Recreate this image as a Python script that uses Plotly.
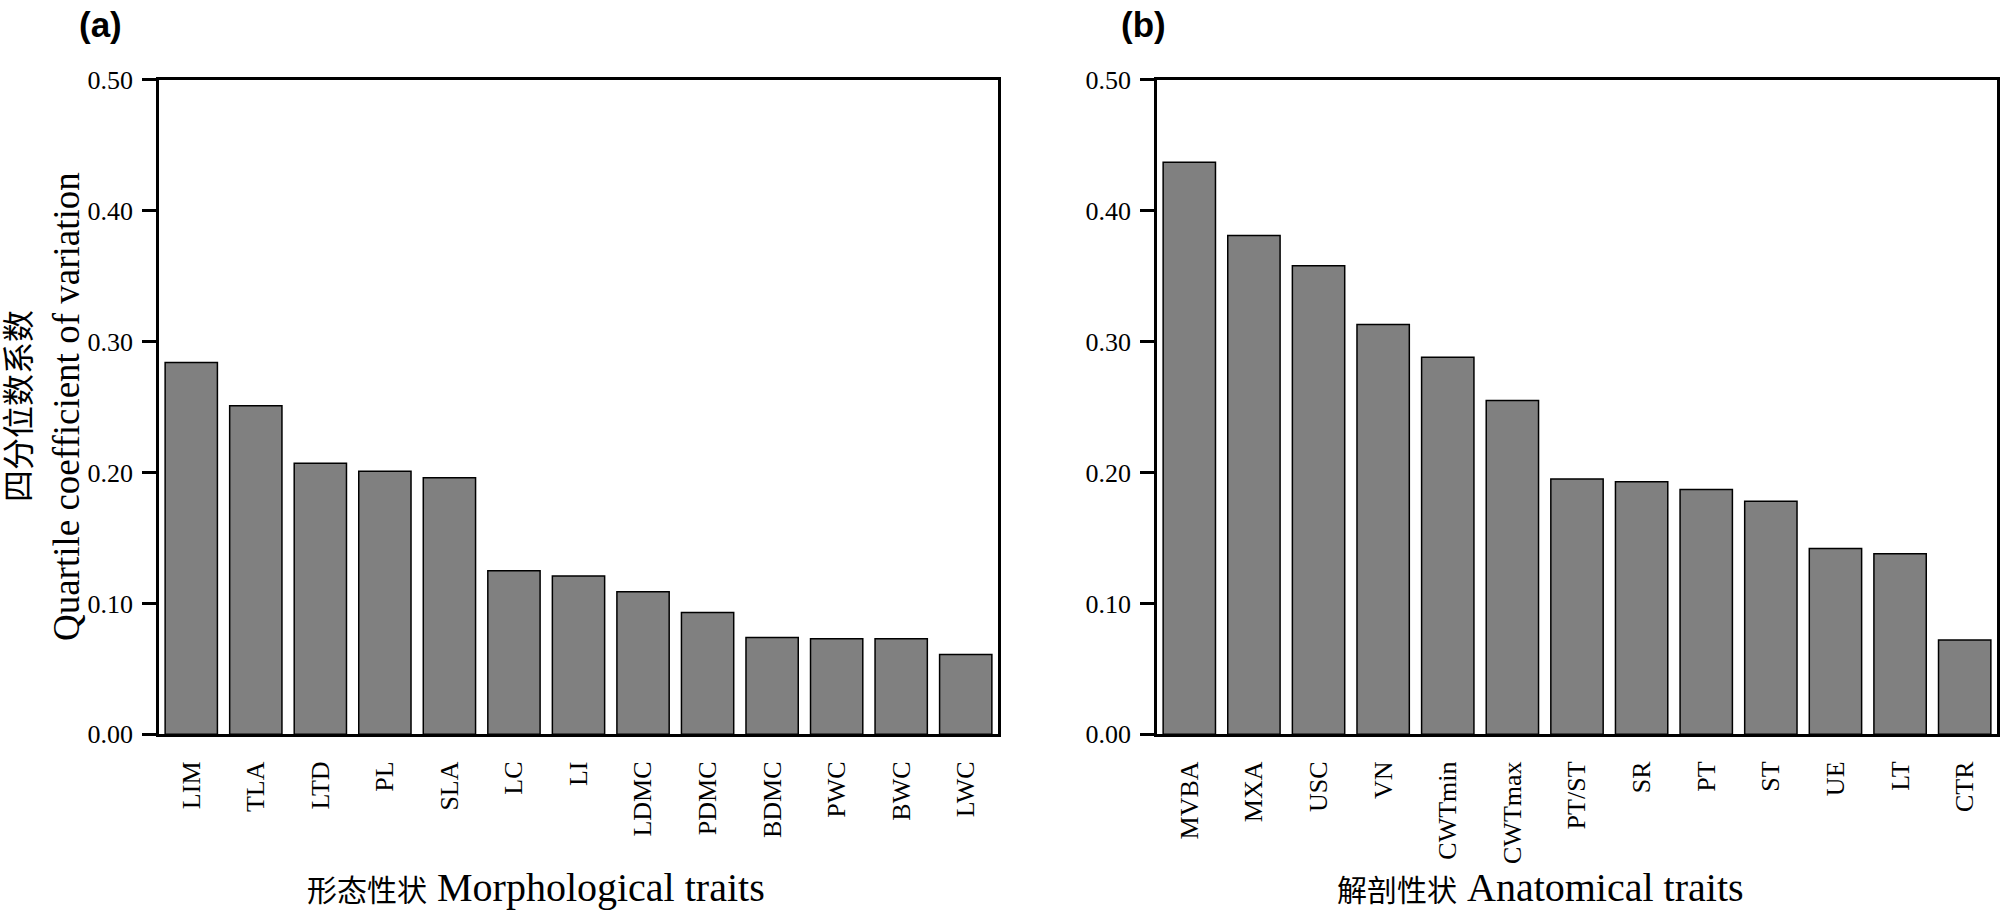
import plotly.graph_objects as go

# ---- data ----
morph_traits = ["LIM", "TLA", "LTD", "PL", "SLA", "LC", "LI", "LDMC", "PDMC", "BDMC", "PWC", "BWC", "LWC"]
morph_qcv = [0.284, 0.251, 0.207, 0.201, 0.196, 0.125, 0.121, 0.109, 0.093, 0.074, 0.073, 0.073, 0.061]

anat_traits = ["MVBA", "MXA", "USC", "VN", "CWTmin", "CWTmax", "PT/ST", "SR", "PT", "ST", "UE", "LT", "CTR"]
anat_qcv = [0.437, 0.381, 0.358, 0.313, 0.288, 0.255, 0.195, 0.193, 0.187, 0.178, 0.142, 0.138, 0.072]

y_ticks = [0.0, 0.1, 0.2, 0.3, 0.4, 0.5]
y_ticktext = ["0.00", "0.10", "0.20", "0.30", "0.40", "0.50"]

W, H = 2000, 911
SERIF = "Liberation Serif, Times New Roman, Noto Sans CJK SC, serif"

fig = go.Figure()
bar_style = dict(marker=dict(color="#808080", line=dict(color="#000000", width=1.5)), showlegend=False)
fig.add_trace(go.Bar(x=morph_traits, y=morph_qcv, xaxis="x", yaxis="y", **bar_style))
fig.add_trace(go.Bar(x=anat_traits, y=anat_qcv, xaxis="x2", yaxis="y2", **bar_style))

def px_x(p):
    return p / W

def px_y(p):
    return 1 - p / H

ydom = [px_y(744), px_y(68)]
xdom1 = [px_x(159), px_x(998)]
xdom2 = [px_x(1157), px_x(1997)]

xcommon = dict(showline=True, linecolor="black", linewidth=2.5, mirror=True, ticks="",
               tickangle=-90, tickfont=dict(family=SERIF, size=26, color="black"),
               showgrid=False, zeroline=False, ticklabelstandoff=14)
ycommon = dict(range=[0, 0.5], tickvals=y_ticks, ticktext=y_ticktext, showline=True, linecolor="black",
               linewidth=2.5, mirror=True, ticks="outside", ticklen=14, tickwidth=2.5, tickcolor="black",
               tickfont=dict(family=SERIF, size=26, color="black"), showgrid=False, zeroline=False,
               domain=ydom, ticklabelstandoff=4)

fig.update_layout(
    width=W, height=H, margin=dict(l=0, r=0, t=0, b=0),
    paper_bgcolor="white", plot_bgcolor="white", bargap=0.19,
    xaxis=dict(domain=xdom1, anchor="y", **xcommon),
    xaxis2=dict(domain=xdom2, anchor="y2", **xcommon),
    yaxis=dict(anchor="x", **ycommon),
    yaxis2=dict(anchor="x2", **ycommon),
)

def title_text(cjk, eng, cjk_size, eng_size):
    return (f'<span style="font-size:{cjk_size}px">{cjk}</span>'
            f'<span style="font-size:{eng_size}px"> {eng}</span>')

ann = []
ann.append(dict(text="<b>(a)</b>", x=px_x(100), y=px_y(11), xref="paper", yref="paper", showarrow=False,
                xanchor="center", yanchor="middle", font=dict(family="Liberation Sans, Arial", size=35, color="black")))
ann.append(dict(text="<b>(b)</b>", x=px_x(1143), y=px_y(11), xref="paper", yref="paper", showarrow=False,
                xanchor="center", yanchor="middle", font=dict(family="Liberation Sans, Arial", size=35, color="black")))
ann.append(dict(text=title_text("形态性状", "Morphological traits", 30, 40), x=px_x(536), y=px_y(902),
                xref="paper", yref="paper", showarrow=False, xanchor="center", yanchor="middle",
                font=dict(family=SERIF, size=40, color="black")))
ann.append(dict(text=title_text("解剖性状", "Anatomical traits", 30, 40), x=px_x(1540), y=px_y(902),
                xref="paper", yref="paper", showarrow=False, xanchor="center", yanchor="middle",
                font=dict(family=SERIF, size=40, color="black")))
ann.append(dict(text="四分位数系数", x=px_x(19), y=px_y(405), xref="paper", yref="paper", textangle=-90,
                showarrow=False, xanchor="center", yanchor="middle", font=dict(family=SERIF, size=32, color="black")))
ann.append(dict(text="Quartile coefficient of variation", x=px_x(66), y=px_y(406), xref="paper", yref="paper",
                textangle=-90, showarrow=False, xanchor="center", yanchor="middle",
                font=dict(family=SERIF, size=37, color="black")))
fig.update_layout(annotations=ann)

fig.write_html("out.html", config={"displayModeBar": False},
               post_script="document.body.style.margin='0';document.body.style.overflow='hidden';")
